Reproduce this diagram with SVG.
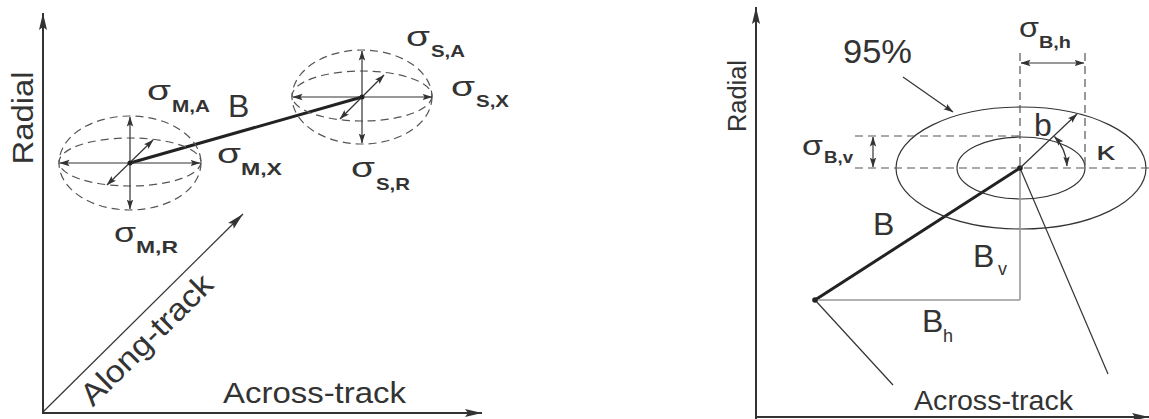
<svg xmlns="http://www.w3.org/2000/svg" width="1149" height="419" viewBox="0 0 1149 419">
<style>
.t{font-family:"Liberation Sans",Arial,sans-serif;fill:#333}
.sb{font-family:"Liberation Sans",Arial,sans-serif;font-weight:bold;fill:#333;font-size:17px}
.sg{font-family:"Liberation Sans",Arial,sans-serif;fill:#333;font-size:28px}
.axis{stroke:#333;stroke-width:2;fill:none}
.dash{stroke:#555;stroke-width:1.2;fill:none;stroke-dasharray:8 5}
.thin{stroke:#333;stroke-width:1.2;fill:none}
.thick{stroke:#222;stroke-width:3;fill:none}
.gray{stroke:#999;stroke-width:1.6;fill:none}
</style>
<defs>
<marker id="ax" markerUnits="userSpaceOnUse" markerWidth="18" markerHeight="10" viewBox="0 0 18 10" refX="17" refY="5" orient="auto"><path d="M0,1 L17,5 L0,9 L3,5 z" fill="#333"/></marker>
<marker id="ar" markerUnits="userSpaceOnUse" markerWidth="10" markerHeight="8" viewBox="0 0 10 8" refX="9.5" refY="4" orient="auto-start-reverse"><path d="M0,0.8 L10,4 L0,7.2 L2,4 z" fill="#333"/></marker>
</defs>

<g id="left-axes">
<line class="axis" x1="43" y1="414" x2="43" y2="13" marker-end="url(#ax)"/>
<line class="axis" x1="42" y1="413" x2="482" y2="413" marker-end="url(#ax)"/>
<text class="t" font-size="30" textLength="93" lengthAdjust="spacingAndGlyphs" text-anchor="middle" transform="translate(33,118) rotate(-90)">Radial</text>
<text class="t" x="223" y="403" font-size="30" textLength="183" lengthAdjust="spacingAndGlyphs">Across-track</text>
</g>

<g id="connectors">
<line class="thin" x1="43" y1="412" x2="243" y2="214" marker-end="url(#ax)"/>
<line class="thick" x1="130" y1="163" x2="362" y2="97"/>
<line class="thick" x1="815" y1="300" x2="1020" y2="168"/>
</g>

<g id="along-track">
<text class="t" font-size="31" textLength="172" lengthAdjust="spacingAndGlyphs" text-anchor="middle" transform="translate(154,347) rotate(-44.7)">Along-track</text>
</g>

<g id="B-label">
<text class="t" x="228" y="117" font-size="32">B</text>
</g>

<g id="node-M">
<ellipse class="dash" cx="130" cy="163" rx="71" ry="47"/>
<ellipse class="dash" cx="130" cy="162" rx="71" ry="24"/>
<line class="thin" x1="60" y1="163" x2="200" y2="163" marker-start="url(#ar)" marker-end="url(#ar)"/>
<line class="thin" x1="130" y1="117" x2="130" y2="209" marker-start="url(#ar)" marker-end="url(#ar)"/>
<line class="thin" x1="107" y1="185" x2="153" y2="140" marker-start="url(#ar)" marker-end="url(#ar)"/>
<circle cx="130" cy="163" r="2.5" fill="#222"/>
</g>

<g id="node-S">
<ellipse class="dash" cx="362" cy="97" rx="70" ry="47"/>
<ellipse class="dash" cx="362" cy="96" rx="70" ry="25"/>
<line class="thin" x1="293" y1="97" x2="432" y2="97" marker-start="url(#ar)" marker-end="url(#ar)"/>
<line class="thin" x1="362" y1="51" x2="362" y2="143" marker-start="url(#ar)" marker-end="url(#ar)"/>
<line class="thin" x1="340" y1="119" x2="384" y2="75" marker-start="url(#ar)" marker-end="url(#ar)"/>
<circle cx="362" cy="97" r="2.5" fill="#222"/>
</g>

<g id="sigma-MA"><text class="sg" x="147" y="100" textLength="24" lengthAdjust="spacingAndGlyphs">σ</text><text class="sb" x="172" y="112" textLength="38" lengthAdjust="spacingAndGlyphs">M,A</text></g>
<g id="sigma-MX"><text class="sg" x="217" y="163" textLength="24" lengthAdjust="spacingAndGlyphs">σ</text><text class="sb" x="241" y="175" textLength="41" lengthAdjust="spacingAndGlyphs">M,X</text></g>
<g id="sigma-MR"><text class="sg" x="114" y="242" textLength="22" lengthAdjust="spacingAndGlyphs">σ</text><text class="sb" x="136" y="253" textLength="42" lengthAdjust="spacingAndGlyphs">M,R</text></g>
<g id="sigma-SA"><text class="sg" x="406" y="46" textLength="24" lengthAdjust="spacingAndGlyphs">σ</text><text class="sb" x="431" y="57" textLength="34" lengthAdjust="spacingAndGlyphs">S,A</text></g>
<g id="sigma-SX"><text class="sg" x="451" y="96" textLength="24" lengthAdjust="spacingAndGlyphs">σ</text><text class="sb" x="476" y="107" textLength="33" lengthAdjust="spacingAndGlyphs">S,X</text></g>
<g id="sigma-SR"><text class="sg" x="351" y="177" textLength="24" lengthAdjust="spacingAndGlyphs">σ</text><text class="sb" x="376" y="190" textLength="34" lengthAdjust="spacingAndGlyphs">S,R</text></g>

<g id="right-axes">
<line class="axis" x1="756" y1="419" x2="756" y2="7" marker-end="url(#ax)"/>
<line class="axis" x1="755" y1="417" x2="1149" y2="417" marker-end="url(#ax)"/>
<text class="t" font-size="25" textLength="72" lengthAdjust="spacingAndGlyphs" text-anchor="middle" transform="translate(746,96) rotate(-90)">Radial</text>
<text class="t" x="914" y="410" font-size="28.5" textLength="159" lengthAdjust="spacingAndGlyphs">Across-track</text>
</g>

<g id="ellipses-95">
<ellipse class="thin" cx="1021" cy="168" rx="125" ry="61"/>
<ellipse class="thin" cx="1021" cy="168" rx="64" ry="31"/>
<line class="thin" x1="903" y1="77" x2="953" y2="112" marker-end="url(#ar)"/>
<text class="t" x="843" y="63" font-size="34" textLength="69" lengthAdjust="spacingAndGlyphs">95%</text>
</g>

<g id="dashed-guides">
<line class="dash" x1="855" y1="168" x2="1149" y2="168"/>
<line class="dash" x1="855" y1="136" x2="1020" y2="136"/>
<line class="dash" x1="1020" y1="53" x2="1020" y2="168"/>
<line class="dash" x1="1085" y1="53" x2="1085" y2="168"/>
</g>

<g id="sigma-Bh">
<line class="thin" x1="1021" y1="63" x2="1084" y2="63" marker-start="url(#ar)" marker-end="url(#ar)"/>
<text class="sg" x="1019" y="37" textLength="20" lengthAdjust="spacingAndGlyphs">σ</text><text class="sb" x="1039" y="48" textLength="32" lengthAdjust="spacingAndGlyphs">B,h</text>
</g>

<g id="sigma-Bv">
<line class="thin" x1="873" y1="137" x2="873" y2="167" marker-start="url(#ar)" marker-end="url(#ar)"/>
<text class="sg" x="802" y="155" textLength="21" lengthAdjust="spacingAndGlyphs">σ</text><text class="sb" x="824" y="163" textLength="29" lengthAdjust="spacingAndGlyphs">B,v</text>
</g>

<g id="baseline-components">
<line class="gray" x1="1020" y1="168" x2="1020" y2="300"/>
<line class="gray" x1="815" y1="300" x2="1020" y2="300"/>
<line class="thin" x1="815" y1="300" x2="893" y2="385"/>
<line class="thin" x1="1020" y1="168" x2="1108" y2="374"/>
<circle cx="815" cy="300" r="2.8" fill="#222"/>
<circle cx="1020" cy="168" r="2.8" fill="#222"/>
<text class="t" x="873" y="235" font-size="32">B</text>
<text class="t" x="973" y="267" font-size="32">B</text><text class="t" x="998" y="275" font-size="18">v</text>
<text class="t" x="922" y="332" font-size="32">B</text><text class="t" x="943" y="342" font-size="18">h</text>
</g>

<g id="b-kappa">
<line class="thin" x1="1020" y1="168" x2="1077" y2="114" marker-end="url(#ar)"/>
<path class="thin" d="M1054.5,136.5 A47,47 0 0 1 1067,166" marker-start="url(#ar)" marker-end="url(#ar)"/>
<text class="t" x="1034" y="136" font-size="32">b</text>
<text class="t" x="1096" y="160" font-size="26" textLength="19" lengthAdjust="spacingAndGlyphs">κ</text>
</g>
</svg>
